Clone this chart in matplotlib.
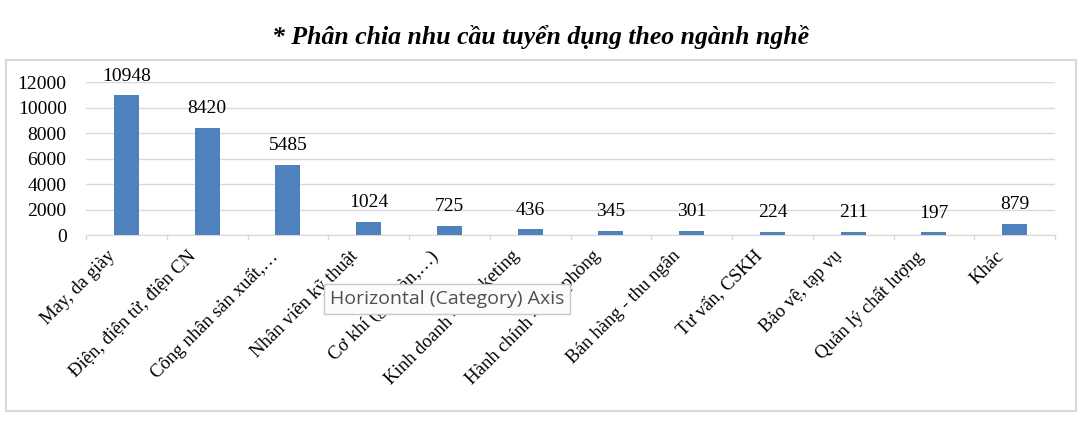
import numpy as np
import matplotlib.pyplot as plt
from matplotlib.patches import Rectangle

# Du lieu
nganh = ['May, da giày', 'Điện, điện tử, điện CN', 'Công nhân sản xuất,…',
         'Nhân viên kỹ thuật', 'Cơ khí (gò, hàn,…)', 'Kinh doanh - Marketing',
         'Hành chính - văn phòng', 'Bán hàng - thu ngân', 'Tư vấn, CSKH',
         'Bảo vệ, tạp vụ', 'Quản lý chất lượng', 'Khác']
so_luong = [10948, 8420, 5485, 1024, 725, 436, 345, 301, 224, 211, 197, 879]
y_ticks = [0, 2000, 4000, 6000, 8000, 10000, 12000]

plt.rcParams['font.family'] = ['Liberation Serif', 'DejaVu Serif']

fig = plt.figure(figsize=(10.81, 4.21), dpi=100)
ax = fig.add_axes([0.0796, 0.4418, 0.8964, 0.3634])

x = np.arange(len(nganh))
ax.bar(x, so_luong, width=0.31, color='#4f81bd', zorder=3)
for xi, v in zip(x, so_luong):
    ax.text(xi, v + 850, str(v), ha='center', va='bottom', fontsize=14)

ax.set_xlim(-0.5, len(nganh) - 0.5)
ax.set_ylim(0, 12000)
ax.set_yticks(y_ticks)
ax.set_yticklabels([str(t) for t in y_ticks], fontsize=14)
ax.yaxis.grid(True, color='#d9d9d9', linewidth=1, zorder=0)
ax.tick_params(axis='y', length=0, pad=14)

ax.set_xticks(x - 0.24)
ax.set_xticklabels(nganh, rotation=45, ha='right', rotation_mode='anchor', fontsize=13.5)
ax.tick_params(axis='x', length=0, pad=9)
# vach chia giua cac nhom
for b in np.arange(-0.5, len(nganh), 1):
    ax.plot([b, b], [0, -330], color='#d9d9d9', lw=1, clip_on=False, zorder=2)

for s in ['top', 'right', 'left']:
    ax.spines[s].set_visible(False)
ax.spines['bottom'].set_color('#d9d9d9')

# khung bieu do
fig.patches.append(Rectangle((6 / 1081, 10 / 421), 1070 / 1081, 351 / 421,
                             transform=fig.transFigure, fill=False,
                             edgecolor='#d9d9d9', lw=1.5))

fig.text(0.5, 0.912, '* Phân chia nhu cầu tuyển dụng theo ngành nghề', ha='center',
         va='center', fontsize=18.5, fontweight='bold', fontstyle='italic')

# tooltip
fig.text(330 / 1081, 1 - 299 / 421, 'Horizontal (Category) Axis', ha='left', va='center',
         fontsize=14, color='#505050', family=['Open Sans', 'DejaVu Sans'],
         bbox=dict(boxstyle='square,pad=0.3', facecolor='#fbfbfb', edgecolor='#c8c8c8', lw=1),
         zorder=10)

fig.savefig('out.png', dpi=100)
